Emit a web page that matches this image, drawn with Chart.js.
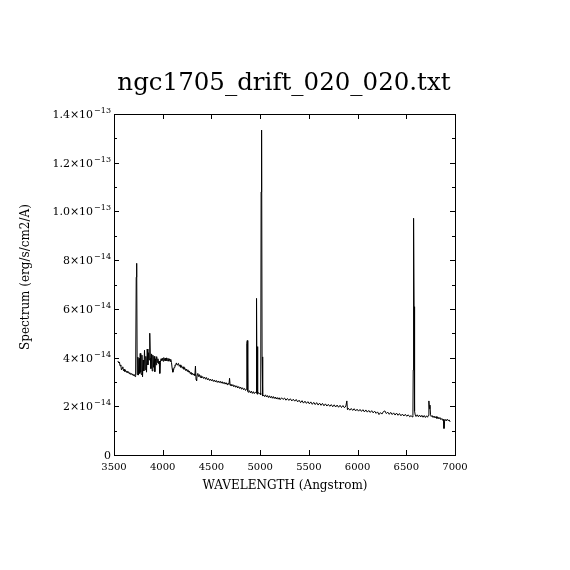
<!DOCTYPE html>
<html>
<head>
<meta charset="utf-8">
<script src="https://cdn.jsdelivr.net/npm/chart.js@4.4.1/dist/chart.umd.min.js"></script>
<style>
  html, body { margin: 0; padding: 0; background: #fff; }
  canvas { display: block; }
</style>
</head>
<body>
<canvas id="chart" width="570" height="570"></canvas>
<script>
// spectrum: wavelength (Angstrom) / flux in units of 1e-14 erg/s/cm2/A
const wave = [
  3540, 3548, 3556, 3562, 3570, 3576, 3584, 3590, 3597, 3604, 3611, 3618, 3626, 3633, 3640, 3648,
  3655, 3662, 3670, 3677, 3685, 3692, 3700, 3708, 3716, 3722, 3728, 3733, 3738, 3745, 3751, 3757,
  3763, 3769, 3775, 3781, 3787, 3793, 3800, 3806, 3813, 3820, 3827, 3834, 3841, 3848, 3855, 3861,
  3867, 3873, 3879, 3886, 3892, 3899, 3906, 3912, 3919, 3925, 3932, 3938, 3945, 3951, 3958, 3964,
  3970, 3976, 3983, 3990, 3997, 4004, 4011, 4018, 4026, 4033, 4040, 4047, 4054, 4061, 4068, 4075,
  4082, 4090, 4097, 4104, 4111, 4118, 4126, 4133, 4140, 4147, 4155, 4162, 4170, 4178, 4186, 4194,
  4202, 4210, 4218, 4226, 4234, 4242, 4250, 4258, 4266, 4274, 4282, 4290, 4298, 4306, 4314, 4322,
  4330, 4336, 4342, 4348, 4354, 4360, 4368, 4376, 4384, 4392, 4400, 4410, 4420, 4430, 4440, 4450,
  4460, 4470, 4480, 4490, 4500, 4510, 4520, 4530, 4540, 4550, 4560, 4570, 4580, 4590, 4600, 4610,
  4620, 4630, 4640, 4650, 4660, 4670, 4680, 4686, 4692, 4700, 4710, 4720, 4730, 4740, 4750, 4760,
  4770, 4780, 4790, 4800, 4810, 4820, 4830, 4840, 4850, 4858, 4863, 4868, 4873, 4880, 4890, 4900,
  4910, 4920, 4930, 4940, 4950, 4958, 4963, 4968, 4972, 4977, 4985, 4993, 5000, 5006, 5010, 5015,
  5020, 5026, 5035, 5045, 5055, 5065, 5075, 5085, 5095, 5105, 5115, 5125, 5135, 5145, 5155, 5165,
  5175, 5185, 5195, 5205, 5220, 5235, 5250, 5265, 5280, 5295, 5310, 5325, 5340, 5355, 5370, 5385,
  5400, 5415, 5430, 5445, 5460, 5475, 5490, 5505, 5520, 5535, 5550, 5565, 5580, 5595, 5610, 5625,
  5640, 5655, 5670, 5685, 5700, 5715, 5730, 5745, 5760, 5775, 5790, 5805, 5820, 5835, 5850, 5865,
  5880, 5890, 5896, 5905, 5920, 5935, 5950, 5965, 5980, 5995, 6010, 6025, 6040, 6055, 6070, 6085,
  6100, 6115, 6130, 6145, 6160, 6175, 6190, 6205, 6220, 6235, 6250, 6265, 6280, 6295, 6310, 6325,
  6340, 6355, 6370, 6385, 6400, 6415, 6430, 6445, 6460, 6475, 6490, 6505, 6520, 6535, 6550, 6562,
  6568, 6571, 6575, 6580, 6585, 6592, 6600, 6612, 6624, 6636, 6648, 6660, 6672, 6684, 6696, 6708,
  6718, 6726, 6732, 6738, 6743, 6749, 6756, 6765, 6775, 6785, 6795, 6805, 6815, 6825, 6835, 6845,
  6855, 6865, 6875, 6882, 6887, 6893, 6900, 6910, 6920, 6930, 6940, 6950
];
const flux = [
  3.86, 3.78, 3.82, 3.66, 3.70, 3.50, 3.56, 3.62, 3.46, 3.52, 3.43, 3.48, 3.40, 3.45, 3.38, 3.42,
  3.34, 3.38, 3.31, 3.35, 3.29, 3.33, 3.26, 3.30, 3.22, 3.25, 7.30, 7.87, 3.30, 4.02, 3.28, 3.97,
  3.35, 4.17, 3.40, 3.30, 4.10, 3.21, 3.90, 3.45, 4.30, 3.50, 4.05, 3.40, 4.35, 3.70, 4.20, 3.90,
  5.00, 4.00, 3.55, 4.15, 3.45, 4.10, 3.60, 4.05, 3.42, 3.95, 3.70, 4.04, 3.80, 3.95, 3.75, 3.85,
  3.35, 3.80, 3.95, 3.88, 3.97, 3.85, 4.00, 3.88, 3.98, 3.86, 3.99, 3.87, 3.97, 3.85, 3.95, 3.84,
  3.93, 3.80, 3.55, 3.40, 3.48, 3.60, 3.70, 3.68, 3.78, 3.70, 3.74, 3.76, 3.64, 3.70, 3.60, 3.66,
  3.56, 3.62, 3.52, 3.58, 3.47, 3.53, 3.44, 3.50, 3.40, 3.45, 3.34, 3.40, 3.30, 3.36, 3.28, 3.33,
  3.26, 3.65, 3.10, 3.05, 3.30, 3.35, 3.22, 3.30, 3.19, 3.26, 3.16, 3.22, 3.14, 3.20, 3.11, 3.18,
  3.08, 3.14, 3.06, 3.12, 3.04, 3.10, 3.02, 3.08, 3.00, 3.06, 2.98, 3.04, 2.97, 3.03, 2.95, 3.01,
  2.93, 2.99, 2.91, 2.97, 2.89, 2.95, 2.90, 3.15, 2.86, 2.91, 2.83, 2.89, 2.80, 2.86, 2.78, 2.84,
  2.75, 2.81, 2.73, 2.79, 2.70, 2.76, 2.68, 2.73, 2.65, 2.70, 4.58, 4.70, 2.62, 2.57, 2.64, 2.55,
  2.62, 2.53, 2.60, 2.52, 2.58, 2.55, 6.43, 2.50, 4.45, 2.52, 2.56, 2.50, 2.53, 2.48, 10.80, 13.34,
  4.03, 2.42, 2.46, 2.40, 2.47, 2.38, 2.44, 2.36, 2.43, 2.35, 2.41, 2.33, 2.40, 2.32, 2.38, 2.30,
  2.36, 2.29, 2.35, 2.27, 2.35, 2.28, 2.34, 2.25, 2.32, 2.24, 2.31, 2.22, 2.29, 2.21, 2.28, 2.18,
  2.25, 2.15, 2.23, 2.13, 2.21, 2.12, 2.19, 2.10, 2.18, 2.08, 2.16, 2.07, 2.15, 2.05, 2.13, 2.04,
  2.12, 2.02, 2.10, 2.01, 2.08, 2.00, 2.07, 1.98, 2.06, 1.97, 2.05, 1.96, 2.04, 1.95, 2.03, 1.94,
  2.01, 2.22, 1.86, 1.92, 1.84, 1.91, 1.83, 1.90, 1.81, 1.88, 1.80, 1.87, 1.79, 1.86, 1.77, 1.85,
  1.76, 1.83, 1.75, 1.82, 1.73, 1.80, 1.71, 1.77, 1.66, 1.74, 1.68, 1.78, 1.81, 1.70, 1.76, 1.67,
  1.75, 1.66, 1.73, 1.64, 1.72, 1.63, 1.70, 1.61, 1.68, 1.60, 1.67, 1.59, 1.65, 1.57, 1.62, 1.56,
  1.62, 3.49, 9.72, 6.09, 1.80, 1.64, 1.58, 1.65, 1.57, 1.64, 1.56, 1.63, 1.55, 1.62, 1.54, 1.61,
  1.55, 1.62, 2.22, 1.90, 2.05, 1.65, 1.58, 1.62, 1.54, 1.60, 1.52, 1.58, 1.50, 1.56, 1.48, 1.54,
  1.45, 1.50, 1.42, 1.46, 1.09, 1.38, 1.46, 1.40, 1.47, 1.41, 1.44, 1.36
];

const xTicks = [3500, 4000, 4500, 5000, 5500, 6000, 6500, 7000];
// y tick labels, one every 2e-14 (mantissa, exponent)
const yLabels = [
  { v: 0, m: '0', e: '' },
  { v: 2, m: '2\u00d710', e: '\u221214' },
  { v: 4, m: '4\u00d710', e: '\u221214' },
  { v: 6, m: '6\u00d710', e: '\u221214' },
  { v: 8, m: '8\u00d710', e: '\u221214' },
  { v: 10, m: '1.0\u00d710', e: '\u221213' },
  { v: 12, m: '1.2\u00d710', e: '\u221213' },
  { v: 14, m: '1.4\u00d710', e: '\u221213' }
];

const titleText = 'ngc1705_drift_020_020.txt';
const xTitle = 'WAVELENGTH (Angstrom)';
const yTitle = 'Spectrum (erg/s/cm2/A)';
const SERIF = '"DejaVu Serif", "Liberation Serif", serif';

// frame, inward ticks, y labels and titles, the way pgplot draws them
const framePlugin = {
  id: 'frame',
  afterDraw(chart) {
    const { ctx, chartArea: a, scales: { x, y } } = chart;
    ctx.save();
    ctx.strokeStyle = '#000';
    ctx.lineWidth = 1;
    ctx.strokeRect(Math.round(a.left) + 0.5, Math.round(a.top) + 0.5,
      Math.round(a.right - a.left), Math.round(a.bottom - a.top));

    ctx.beginPath();
    x.ticks.forEach(t => {
      const px = Math.round(x.getPixelForValue(t.value)) + 0.5;
      ctx.moveTo(px, a.bottom); ctx.lineTo(px, a.bottom - 5);
      ctx.moveTo(px, a.top); ctx.lineTo(px, a.top + 5);
    });
    y.ticks.forEach(t => {
      const py = Math.round(y.getPixelForValue(t.value)) + 0.5;
      const len = t.value % 2 === 0 ? 5 : 3;
      ctx.moveTo(a.left, py); ctx.lineTo(a.left + len, py);
      ctx.moveTo(a.right, py); ctx.lineTo(a.right - len, py);
    });
    ctx.stroke();

    ctx.fillStyle = '#000';
    // y tick labels with raised exponent
    ctx.textBaseline = 'alphabetic';
    yLabels.forEach(l => {
      const py = y.getPixelForValue(l.v);
      let xr = a.left - 3;
      if (l.e) {
        ctx.font = '8px ' + SERIF;
        ctx.textAlign = 'right';
        ctx.fillText(l.e, xr, py - 1);
        xr -= ctx.measureText(l.e).width + 1;
      }
      ctx.font = '11px ' + SERIF;
      ctx.textAlign = 'right';
      ctx.fillText(l.m, xr, py + 4);
    });

    // title
    ctx.textAlign = 'center';
    ctx.font = '24.5px ' + SERIF;
    ctx.fillText(titleText, 284, 90);

    // axis titles
    ctx.font = '12px ' + SERIF;
    ctx.fillText(xTitle, 285, 489);
    ctx.translate(29, 277);
    ctx.rotate(-Math.PI / 2);
    ctx.fillText(yTitle, 0, 0);
    ctx.restore();
  }
};

new Chart(document.getElementById('chart'), {
  type: 'line',
  data: {
    datasets: [{
      data: wave.map((w, i) => ({ x: w, y: flux[i] })),
      borderColor: '#000',
      borderWidth: 1,
      pointRadius: 0,
      tension: 0,
      fill: false
    }]
  },
  options: {
    responsive: false,
    animation: false,
    devicePixelRatio: 1,
    layout: { padding: { top: 114, right: 115, left: 0, bottom: 0 } },
    plugins: { legend: { display: false }, tooltip: { enabled: false }, title: { display: false } },
    scales: {
      x: {
        type: 'linear',
        min: 3500,
        max: 7000,
        afterBuildTicks: s => { s.ticks = xTicks.map(v => ({ value: v })); },
        afterFit: s => { s.height = 115; },
        ticks: { color: '#000', font: { family: SERIF, size: 10 }, padding: 6, maxRotation: 0, autoSkip: false,
          callback: v => String(v) },
        grid: { display: false, drawTicks: false },
        border: { display: false }
      },
      y: {
        type: 'linear',
        min: 0,
        max: 14,
        afterFit: s => { s.width = 114; },
        ticks: { stepSize: 1, display: false, autoSkip: false },
        grid: { display: false, drawTicks: false },
        border: { display: false }
      }
    }
  },
  plugins: [framePlugin]
});
</script>
</body>
</html>
